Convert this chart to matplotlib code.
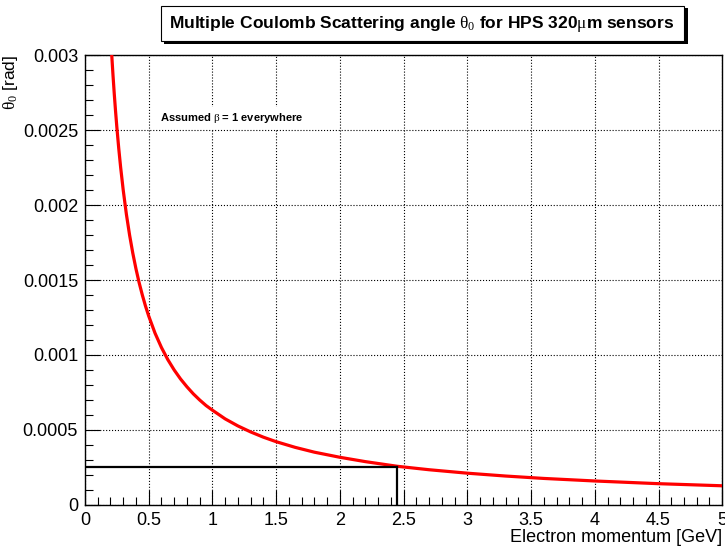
import matplotlib
matplotlib.use('Agg')
import matplotlib.pyplot as plt
from matplotlib.ticker import MultipleLocator
from matplotlib.patches import Rectangle

plt.rcParams['font.family'] = ['Liberation Sans', 'DejaVu Sans']
plt.rcParams['mathtext.fontset'] = 'custom'
plt.rcParams['mathtext.rm'] = 'Liberation Serif'
plt.rcParams['mathtext.it'] = 'Liberation Serif'

# theta_0 vs momentum
momentum = [0.21, 0.22, 0.23, 0.24, 0.25, 0.265, 0.28, 0.30, 0.325, 0.35, 0.375,
            0.40, 0.425, 0.45, 0.475, 0.50, 0.55, 0.60, 0.65, 0.70, 0.75, 0.80,
            0.85, 0.90, 0.95, 1.00, 1.10, 1.20, 1.30, 1.40, 1.50, 1.65, 1.80,
            2.00, 2.20, 2.45, 2.70, 3.00, 3.30, 3.60, 4.00, 4.50, 5.00]
theta0 = [0.003000, 0.002864, 0.002739, 0.002625, 0.002520, 0.002377, 0.002250,
          0.002100, 0.001938, 0.001800, 0.001680, 0.001575, 0.001482, 0.001400,
          0.001326, 0.001260, 0.001145, 0.001050, 0.000969, 0.000900, 0.000840,
          0.000788, 0.000741, 0.000700, 0.000663, 0.000632, 0.000574, 0.000527,
          0.000487, 0.000452, 0.000422, 0.000384, 0.000352, 0.000318, 0.000289,
          0.000258, 0.000235, 0.000212, 0.000193, 0.000177, 0.000160, 0.000142,
          0.000128]

# marker lines at the working point
p_mark = 2.45
theta_mark = 0.000256

fig = plt.figure(figsize=(7.25, 5.48), dpi=100)
ax = fig.add_axes([0.1172, 0.0785, 0.8790, 0.8211])

ax.plot(momentum, theta0, color='red', lw=2.3, zorder=3)
ax.plot([0, p_mark], [theta_mark, theta_mark], color='black', lw=1.6, zorder=4)
ax.plot([p_mark, p_mark], [0, theta_mark], color='black', lw=1.6, zorder=4)

ax.set_xlim(0, 5)
ax.set_ylim(0, 0.003)
ax.xaxis.set_minor_locator(MultipleLocator(0.1))
ax.yaxis.set_minor_locator(MultipleLocator(0.0001))
ax.set_xticks([0, 0.5, 1, 1.5, 2, 2.5, 3, 3.5, 4, 4.5, 5])
ax.set_xticklabels(['0', '0.5', '1', '1.5', '2', '2.5', '3', '3.5', '4', '4.5', '5'])
ax.set_yticks([0, 0.0005, 0.001, 0.0015, 0.002, 0.0025, 0.003])
ax.set_yticklabels(['0', '0.0005', '0.001', '0.0015', '0.002', '0.0025', '0.003'])
ax.tick_params(which='major', direction='in', length=11, width=0.8, labelsize=13, pad=5)
ax.tick_params(which='minor', direction='in', length=5.5, width=0.8)
ax.grid(True, which='major', color='black', ls=':', lw=0.8)
for s in ax.spines.values():
    s.set_linewidth(1.0)

ax.set_xlabel('Electron momentum [GeV]', fontsize=13, ha='right', x=1.0, labelpad=0)
ax.set_ylabel(r'$\theta_0$ [rad]', fontsize=12.5, ha='right', y=1.0, labelpad=2)

ax.text(0.59, 0.00258, r'Assumed $\beta$ = 1 everywhere', fontsize=8, fontweight='bold',
        va='center', zorder=5,
        bbox=dict(facecolor='white', edgecolor='none', pad=3))

# title box with shadow
fig.patches.append(Rectangle((164 / 725, 1 - 44 / 548), 524 / 725, 36 / 548,
                             transform=fig.transFigure, facecolor='black', edgecolor='none'))
fig.patches.append(Rectangle((161 / 725, 1 - 41 / 548), 523 / 725, 35 / 548,
                             transform=fig.transFigure, facecolor='white',
                             edgecolor='black', lw=0.8))
fig.text(422 / 725, 1 - 23.5 / 548,
         r'Multiple Coulomb Scattering angle $\theta_0$ for HPS 320$\mu$m sensors',
         fontsize=12.5, fontweight='bold', ha='center', va='center')

fig.savefig('out.png', dpi=100)
